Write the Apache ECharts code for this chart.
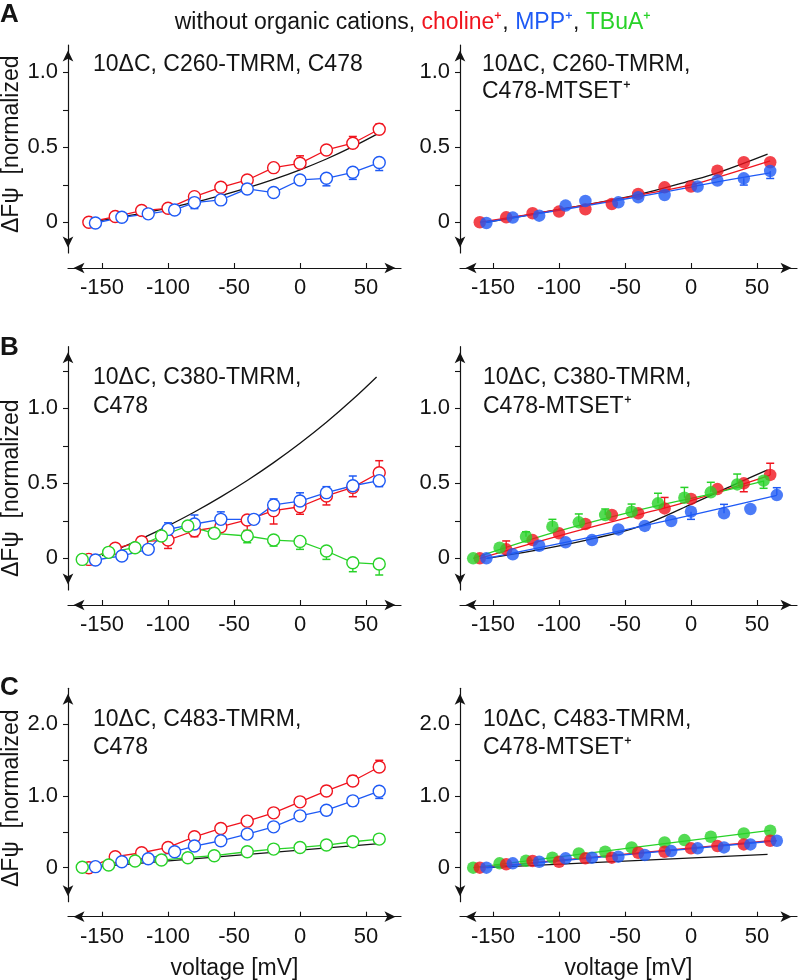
<!DOCTYPE html>
<html>
<head>
<meta charset="utf-8">
<script src="https://cdn.jsdelivr.net/npm/echarts@6/dist/echarts.min.js"></script>
<style>
html,body{margin:0;padding:0;background:#fff;}
#chart{width:798px;height:980px;}
</style>
</head>
<body>
<div id="chart"></div>
<script>
// ---------------- DATA ----------------
const xTicks = [-150, -100, -50, 0, 50];
const yTicksA = [0, 0.25, 0.5, 0.75, 1.0];
const yTicksB = [0, 0.25, 0.5, 0.75, 1.0, 1.25];
const yTicksC = [0, 0.5, 1.0, 1.5, 2.0];
const yLabelsAB = [0, 0.5, 1.0];
const yLabelsC = [0, 1.0, 2.0];

// Panel A left: 10ΔC, C260-TMRM, C478
const A1_cho_mV = [-160, -140, -120, -100, -80, -60, -40, -20, 0, 20, 40, 60];
const A1_cho = [0, 0.038, 0.078, 0.093, 0.171, 0.233, 0.282, 0.364, 0.393, 0.482, 0.527, 0.62];
const A1_cho_err = [0, 0, 0, 0, 0, 0, 0, 0, 0.05, 0, 0.045, 0.035];
const A1_mpp_mV = [-155, -135, -115, -95, -80, -60, -40, -20, 0, 20, 40, 60];
const A1_mpp = [-0.005, 0.033, 0.056, 0.082, 0.131, 0.149, 0.222, 0.198, 0.282, 0.293, 0.333, 0.398];
const A1_mpp_err = [0, 0, 0, 0, -0.04, 0, 0, 0, 0, -0.05, -0.047, -0.053];
const A1_fit_mV = [-155, -140, -120, -100, -80, -60, -40, -20, 0, 20, 40, 58];
const A1_fit = [0.007, 0.028, 0.059, 0.094, 0.134, 0.178, 0.229, 0.286, 0.35, 0.422, 0.504, 0.586];

// Panel A right: 10ΔC, C260-TMRM, C478-MTSET+
const A2_cho_mV = [-160, -140, -120, -100, -80, -60, -40, -20, 0, 20, 40, 60];
const A2_cho = [0, 0.033, 0.06, 0.071, 0.087, 0.122, 0.189, 0.233, 0.238, 0.344, 0.4, 0.4];
const A2_cho_err = [0, 0, 0, 0, 0, 0, 0, 0, 0, 0, 0, 0];
const A2_mpp_mV = [-155, -135, -115, -95, -80, -55, -40, -20, 5, 20, 40, 60];
const A2_mpp = [-0.005, 0.031, 0.044, 0.111, 0.142, 0.133, 0.167, 0.182, 0.238, 0.278, 0.293, 0.342];
const A2_mpp_err = [0, 0, 0, 0, 0, 0, 0, 0, 0, 0, -0.045, -0.05];
const A2_fitCho_mV = [-160, -100, -40, 0, 20, 60];
const A2_fitCho = [0, 0.085, 0.18, 0.25, 0.3, 0.41];
const A2_fitMpp_mV = [-155, -100, -40, 0, 20, 60];
const A2_fitMpp = [0, 0.08, 0.17, 0.235, 0.27, 0.33];
const A2_fit_mV = [-155, -100, -40, 0, 20, 58];
const A2_fit = [0, 0.085, 0.185, 0.278, 0.33, 0.455];

// Panel B left: 10ΔC, C380-TMRM, C478
const B1_cho_mV = [-160, -140, -120, -100, -80, -60, -40, -20, 0, 20, 40, 60];
const B1_cho = [-0.007, 0.067, 0.111, 0.122, 0.184, 0.211, 0.256, 0.318, 0.344, 0.416, 0.473, 0.571];
const B1_cho_err = [0, 0.03, 0.033, -0.056, -0.04, 0, -0.07, -0.089, -0.05, -0.06, -0.062, 0.08];
const B1_mpp_mV = [-155, -135, -115, -100, -80, -60, -35, -20, 0, 20, 40, 60];
const B1_mpp = [-0.011, 0.016, 0.06, 0.193, 0.229, 0.26, 0.26, 0.356, 0.382, 0.438, 0.484, 0.518];
const B1_mpp_err = [0, 0, 0, 0.044, 0.06, 0.05, 0.03, 0.04, 0.055, 0.04, 0.065, -0.04];
const B1_tba_mV = [-165, -145, -125, -105, -85, -65, -40, -20, 0, 20, 40, 60];
const B1_tba = [-0.007, 0.04, 0.071, 0.149, 0.216, 0.167, 0.149, 0.122, 0.113, 0.049, -0.029, -0.038];
const B1_tba_err = [0, 0, 0, 0, 0, 0, -0.045, -0.04, -0.053, -0.056, -0.06, -0.073];
const B1_fit_mV = [-150, -140, -120, -100, -80, -60, -40, -20, 0, 20, 40, 58];
const B1_fit = [0.018, 0.054, 0.132, 0.217, 0.309, 0.41, 0.519, 0.638, 0.767, 0.907, 1.06, 1.209];

// Panel B right: 10ΔC, C380-TMRM, C478-MTSET+
const B2_cho_mV = [-160, -140, -120, -100, -80, -60, -40, -20, 0, 20, 40, 60];
const B2_cho = [0, 0.06, 0.122, 0.167, 0.229, 0.289, 0.3, 0.333, 0.396, 0.462, 0.5, 0.556];
const B2_cho_err = [0, 0.056, 0, 0, 0, 0, 0, 0.073, 0, 0, -0.056, 0.078];
const B2_mpp_mV = [-155, -135, -115, -95, -75, -55, -35, -15, 0, 25, 45, 65];
const B2_mpp = [0, 0.027, 0.084, 0.107, 0.122, 0.193, 0.216, 0.249, 0.311, 0.3, 0.329, 0.422];
const B2_mpp_err = [0, 0, 0, 0, 0, 0, 0, 0, -0.051, 0.06, 0, 0.049];
const B2_tba_mV = [-165, -145, -125, -105, -85, -65, -45, -25, -5, 15, 35, 55];
const B2_tba = [0, 0.071, 0.144, 0.211, 0.24, 0.289, 0.311, 0.367, 0.404, 0.44, 0.493, 0.518];
const B2_tba_err = [0, 0, 0.033, 0.049, 0.056, 0.04, 0.051, 0.067, 0.069, 0.067, 0.069, -0.051];
const B2_fitCho_mV = [-160, -100, -40, 0, 60];
const B2_fitCho = [0, 0.15, 0.29, 0.385, 0.555];
const B2_fitMpp_mV = [-155, -45, 65];
const B2_fitMpp = [0, 0.2, 0.42];
const B2_fitTba_mV = [-165, -105, -45, 15, 55];
const B2_fitTba = [0, 0.17, 0.31, 0.43, 0.515];
const B2_fit_mV = [-155, -120, -80, -40, 0, 30, 58];
const B2_fit = [0, 0.05, 0.12, 0.21, 0.36, 0.48, 0.59];

// Panel C left: 10ΔC, C483-TMRM, C478
const C1_cho_mV = [-160, -140, -120, -100, -80, -60, -40, -20, 0, 20, 40, 60];
const C1_cho = [0, 0.153, 0.208, 0.282, 0.43, 0.546, 0.648, 0.764, 0.917, 1.069, 1.208, 1.403];
const C1_cho_err = [0, 0, 0, 0, 0, 0, 0, 0, 0, 0.065, 0.074, 0.093];
const C1_mpp_mV = [-155, -135, -115, -95, -80, -60, -40, -20, 0, 20, 40, 60];
const C1_mpp = [0.014, 0.083, 0.125, 0.222, 0.301, 0.375, 0.468, 0.569, 0.722, 0.801, 0.931, 1.065];
const C1_mpp_err = [0, 0, 0, 0, 0, 0, 0, 0, 0, -0.069, -0.069, -0.1];
const C1_tba_mV = [-165, -145, -125, -105, -85, -65, -40, -20, 0, 20, 40, 60];
const C1_tba = [0.005, 0.037, 0.093, 0.106, 0.139, 0.167, 0.222, 0.259, 0.282, 0.315, 0.361, 0.398];
const C1_tba_err = [0, 0, 0, 0, 0, 0, 0, 0, 0, 0, 0, 0];
const C1_fit_mV = [-155, 60];
const C1_fit = [0.01, 0.335];

// Panel C right: 10ΔC, C483-TMRM, C478-MTSET+
const C2_cho_mV = [-160, -140, -120, -100, -80, -60, -40, -20, 0, 20, 40, 60];
const C2_cho = [0, 0.046, 0.093, 0.083, 0.13, 0.139, 0.208, 0.222, 0.269, 0.301, 0.324, 0.375];
const C2_mpp_mV = [-155, -135, -115, -95, -75, -55, -35, -15, 5, 25, 45, 65];
const C2_mpp = [0, 0.06, 0.083, 0.13, 0.139, 0.153, 0.176, 0.231, 0.269, 0.282, 0.324, 0.375];
const C2_tba_mV = [-165, -145, -125, -105, -85, -65, -45, -20, -5, 15, 40, 60];
const C2_tba = [0, 0.06, 0.097, 0.139, 0.199, 0.222, 0.282, 0.352, 0.384, 0.431, 0.477, 0.514];
const C2_fitCho_mV = [-160, 60];
const C2_fitCho = [0, 0.375];
const C2_fitMpp_mV = [-155, 65];
const C2_fitMpp = [0, 0.375];
const C2_fitTba_mV = [-165, 60];
const C2_fitTba = [0, 0.52];
const C2_fit_mV = [-155, 58];
const C2_fit = [0, 0.185];

// ---------------- STYLE / LAYOUT ----------------
const FONT = '"Liberation Sans", Arial, Helvetica, sans-serif';
const INK = '#141414';
const RED = '#f0141e', BLUE = '#1e5af5', GREEN = '#28d228';

const panels = [
  {grid: {left: 68, top: 45, width: 333, height: 208}, x: [-175.8, 76.5], y: [-0.205, 1.182], yt: yTicksA, yl: yLabelsAB, xname: false},
  {grid: {left: 460, top: 45, width: 337, height: 208}, x: [-175, 80.3], y: [-0.205, 1.182], yt: yTicksA, yl: yLabelsAB, xname: false},
  {grid: {left: 68, top: 346.7, width: 333, height: 243.3}, x: [-175.8, 76.5], y: [-0.211, 1.411], yt: yTicksB, yl: yLabelsAB, xname: false},
  {grid: {left: 460, top: 346.7, width: 337, height: 243.3}, x: [-175, 80.3], y: [-0.211, 1.411], yt: yTicksB, yl: yLabelsAB, xname: false},
  {grid: {left: 68, top: 688.3, width: 333, height: 213.4}, x: [-175.8, 76.5], y: [-0.474, 2.499], yt: yTicksC, yl: yLabelsC, xname: true},
  {grid: {left: 460, top: 688.3, width: 337, height: 213.4}, x: [-175, 80.3], y: [-0.474, 2.499], yt: yTicksC, yl: yLabelsC, xname: true}
];

const zip = (xs, ys) => xs.map((v, i) => [v, ys[i]]);
const zip3 = (xs, ys, es) => xs.map((v, i) => [v, ys[i], es[i]]);

const arrowLine = {
  show: true, onZero: false,
  symbol: ['arrow', 'arrow'], symbolSize: [8, 11], symbolOffset: [5.5, -5.5],
  lineStyle: {color: INK, width: 1.2}
};

const grids = [], xAxes = [], yAxes = [];
panels.forEach((p, i) => {
  grids.push(Object.assign({outerBoundsMode: 'none', containLabel: false}, p.grid));
  xAxes.push({
    type: 'value', gridIndex: i, min: p.x[0], max: p.x[1], position: 'bottom', offset: 15,
    axisLine: arrowLine,
    axisTick: {show: true, inside: true, length: 5, customValues: xTicks, lineStyle: {color: INK, width: 1.1}},
    axisLabel: {show: true, customValues: xTicks, margin: 9, fontSize: 22, color: INK, fontFamily: FONT},
    splitLine: {show: false},
    name: p.xname ? 'voltage [mV]' : '', nameLocation: 'middle', nameGap: 40,
    nameTextStyle: {fontSize: 23, color: INK, fontFamily: FONT}
  });
  yAxes.push({
    type: 'value', gridIndex: i, min: p.y[0], max: p.y[1], position: 'left',
    axisLine: arrowLine,
    axisTick: {show: true, inside: false, length: 5, customValues: p.yt, lineStyle: {color: INK, width: 1.1}},
    axisLabel: {show: true, customValues: p.yl, margin: 10, fontSize: 22, color: INK, fontFamily: FONT,
      formatter: v => (v === 0 ? '0' : v.toFixed(1))},
    splitLine: {show: false}
  });
});

const series = [];
function fit(i, xs, ys, color, smooth) {
  series.push({type: 'line', xAxisIndex: i, yAxisIndex: i, data: zip(xs, ys), showSymbol: false, symbol: 'none',
    smooth: smooth ? 0.4 : false, lineStyle: {color: color, width: 1.3}, z: 1, silent: true});
}
function errs(i, xs, ys, es, color) {
  series.push({type: 'custom', xAxisIndex: i, yAxisIndex: i, coordinateSystem: 'cartesian2d', data: zip3(xs, ys, es),
    encode: {x: 0, y: 1}, z: 2, silent: true,
    renderItem: function (params, api) {
      const x = api.value(0), y = api.value(1), e = api.value(2);
      if (!e) return null;
      const p0 = api.coord([x, y]);
      const p1 = api.coord([x, y + e]);
      return {type: 'group', children: [
        {type: 'line', shape: {x1: p0[0], y1: p0[1], x2: p1[0], y2: p1[1]}, style: {stroke: color, lineWidth: 1.3}},
        {type: 'line', shape: {x1: p1[0] - 4, y1: p1[1], x2: p1[0] + 4, y2: p1[1]}, style: {stroke: color, lineWidth: 1.5}}
      ]};
    }});
}
function openPts(i, xs, ys, color) {
  series.push({type: 'line', xAxisIndex: i, yAxisIndex: i, data: zip(xs, ys), symbol: 'circle', symbolSize: 12,
    itemStyle: {color: '#fff', borderColor: color, borderWidth: 1.4}, lineStyle: {color: color, width: 1.3}, z: 3, silent: true});
}
function filledPts(i, xs, ys, color) {
  series.push({type: 'scatter', xAxisIndex: i, yAxisIndex: i, data: zip(xs, ys), symbol: 'circle', symbolSize: 12.5,
    itemStyle: {color: color}, z: 3, silent: true});
}

// A left
fit(0, A1_fit_mV, A1_fit, INK, true);
errs(0, A1_cho_mV, A1_cho, A1_cho_err, RED); openPts(0, A1_cho_mV, A1_cho, RED);
errs(0, A1_mpp_mV, A1_mpp, A1_mpp_err, BLUE); openPts(0, A1_mpp_mV, A1_mpp, BLUE);
// A right
fit(1, A2_fit_mV, A2_fit, INK, true);
fit(1, A2_fitCho_mV, A2_fitCho, RED, true);
fit(1, A2_fitMpp_mV, A2_fitMpp, BLUE, true);
errs(1, A2_cho_mV, A2_cho, A2_cho_err, RED); filledPts(1, A2_cho_mV, A2_cho, RED);
errs(1, A2_mpp_mV, A2_mpp, A2_mpp_err, BLUE); filledPts(1, A2_mpp_mV, A2_mpp, BLUE);
// B left
fit(2, B1_fit_mV, B1_fit, INK, true);
errs(2, B1_cho_mV, B1_cho, B1_cho_err, RED); openPts(2, B1_cho_mV, B1_cho, RED);
errs(2, B1_mpp_mV, B1_mpp, B1_mpp_err, BLUE); openPts(2, B1_mpp_mV, B1_mpp, BLUE);
errs(2, B1_tba_mV, B1_tba, B1_tba_err, GREEN); openPts(2, B1_tba_mV, B1_tba, GREEN);
// B right
fit(3, B2_fit_mV, B2_fit, INK, true);
fit(3, B2_fitCho_mV, B2_fitCho, RED, true);
fit(3, B2_fitMpp_mV, B2_fitMpp, BLUE, true);
fit(3, B2_fitTba_mV, B2_fitTba, GREEN, true);
errs(3, B2_cho_mV, B2_cho, B2_cho_err, RED); filledPts(3, B2_cho_mV, B2_cho, RED);
errs(3, B2_mpp_mV, B2_mpp, B2_mpp_err, BLUE); filledPts(3, B2_mpp_mV, B2_mpp, BLUE);
errs(3, B2_tba_mV, B2_tba, B2_tba_err, GREEN); filledPts(3, B2_tba_mV, B2_tba, GREEN);
// C left
fit(4, C1_fit_mV, C1_fit, INK, false);
errs(4, C1_cho_mV, C1_cho, C1_cho_err, RED); openPts(4, C1_cho_mV, C1_cho, RED);
errs(4, C1_mpp_mV, C1_mpp, C1_mpp_err, BLUE); openPts(4, C1_mpp_mV, C1_mpp, BLUE);
errs(4, C1_tba_mV, C1_tba, C1_tba_err, GREEN); openPts(4, C1_tba_mV, C1_tba, GREEN);
// C right
fit(5, C2_fit_mV, C2_fit, INK, false);
fit(5, C2_fitTba_mV, C2_fitTba, GREEN, false);
fit(5, C2_fitCho_mV, C2_fitCho, RED, false);
fit(5, C2_fitMpp_mV, C2_fitMpp, BLUE, false);
filledPts(5, C2_tba_mV, C2_tba, GREEN);
filledPts(5, C2_cho_mV, C2_cho, RED);
filledPts(5, C2_mpp_mV, C2_mpp, BLUE);

// ---------------- TEXT ----------------
const T = 23;
const richBase = {
  k: {fontSize: T, fontFamily: FONT, fill: INK},
  r: {fontSize: T, fontFamily: FONT, fill: RED},
  b: {fontSize: T, fontFamily: FONT, fill: BLUE},
  g: {fontSize: T, fontFamily: FONT, fill: GREEN}
};
function txt(x, y, text, align) {
  return {type: 'text', x: x, y: y, silent: true,
    style: {text: text, rich: richBase, fontSize: T, fontFamily: FONT, fill: INK, textAlign: align || 'left', textVerticalAlign: 'middle'}};
}
function letter(y, s) {
  return {type: 'text', x: 0, y: y, silent: true,
    style: {text: s, fontSize: 26, fontWeight: 'bold', fontFamily: FONT, fill: INK, textAlign: 'left', textVerticalAlign: 'middle'}};
}
function yName(y) {
  return {type: 'text', x: 12, y: y, rotation: Math.PI / 2, silent: true,
    style: {text: 'ΔFψ  [normalized', fontSize: 23, fontFamily: FONT, fill: INK, textAlign: 'left', textVerticalAlign: 'middle'}};
}
const graphics = [
  txt(413, 22.5, '{k|without organic cations, }{r|choline⁺}{k|, }{b|MPP⁺}{k|, }{g|TBuA⁺}', 'center'),
  letter(15, 'A'), letter(348, 'B'), letter(688, 'C'),
  // panel annotations
  txt(93, 64.7, '{k|10ΔC, C260-TMRM, C478}'),
  txt(482, 64.7, '{k|10ΔC, C260-TMRM,}'),
  txt(482, 91.3, '{k|C478-MTSET⁺}'),
  txt(93, 378, '{k|10ΔC, C380-TMRM,}'),
  txt(93, 406.3, '{k|C478}'),
  txt(483, 378, '{k|10ΔC, C380-TMRM,}'),
  txt(483, 406.3, '{k|C478-MTSET⁺}'),
  txt(93, 719.7, '{k|10ΔC, C483-TMRM,}'),
  txt(93, 748, '{k|C478}'),
  txt(483, 719.7, '{k|10ΔC, C483-TMRM,}'),
  txt(483, 748, '{k|C478-MTSET⁺}'),
  yName(233), yName(577), yName(887)
];

const chart = echarts.init(document.getElementById('chart'), null, {renderer: 'canvas'});
chart.setOption({
  backgroundColor: '#ffffff',
  animation: false,
  grid: grids,
  xAxis: xAxes,
  yAxis: yAxes,
  series: series,
  graphic: graphics
});
</script>
</body>
</html>
